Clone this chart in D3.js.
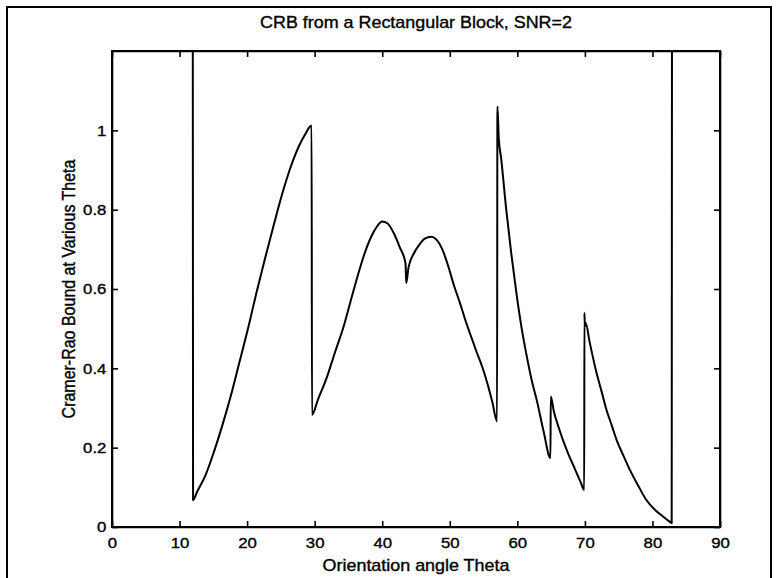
<!DOCTYPE html>
<html>
<head>
<meta charset="utf-8">
<script src="https://cdn.jsdelivr.net/npm/d3@7"></script>
<style>
  body { margin: 0; background: #fff; }
  svg { display: block; }
  text { font-family: "Liberation Sans", Arial, Helvetica, sans-serif; fill: #000; stroke: #000; stroke-width: 0.35px; }
  .axis path, .axis line { stroke: #000; stroke-width: 1.6; }
</style>
</head>
<body>
<svg width="776" height="578"></svg>
<script>
// CRB vs orientation angle
var theta = [11.95, 12.0, 12.6, 13.85, 15.1, 16.4, 17.64, 18.9, 20.17, 21.4, 22.7, 24.0, 25.2,
  26.5, 27.75, 28.6, 29.41, 29.55, 29.6, 30.5, 31.8, 33.0, 34.3, 35.3, 36.3, 37.3, 38.35,
  39.2, 40.0, 40.8, 41.7, 42.6, 43.45, 43.55, 43.9, 44.7, 45.5, 46.3, 47.25, 48.0, 48.9,
  49.8, 50.6, 51.5, 52.3, 53.2, 54.0, 54.8, 55.6, 56.3, 57.0, 57.05, 57.25, 57.6, 58.36,
  59.1, 59.87, 60.6, 61.4, 62.1, 62.9, 63.9, 64.9, 64.95, 65.4, 66.1, 66.8, 67.6, 68.3,
  68.8, 69.4, 69.9, 69.93, 70.0, 70.1, 70.74, 71.73, 72.5, 73.2, 74.0, 74.7, 75.7, 76.66,
  77.9, 79.1, 80.4, 81.6, 82.6, 82.85, 82.9];
var crb = [1.5, 0.068, 0.089, 0.131, 0.19, 0.26, 0.334, 0.418, 0.503, 0.592, 0.68, 0.765, 0.84,
  0.91, 0.963, 0.99, 1.011, 1.012, 0.283, 0.322, 0.377, 0.44, 0.506, 0.568, 0.629, 0.685, 0.731,
  0.757, 0.77, 0.765, 0.741, 0.705, 0.665, 0.615, 0.655, 0.69, 0.712, 0.727, 0.732, 0.725, 0.7,
  0.656, 0.61, 0.565, 0.522, 0.478, 0.44, 0.404, 0.36, 0.315, 0.266, 1.06, 0.98, 0.93, 0.8,
  0.69, 0.589, 0.505, 0.43, 0.372, 0.318, 0.24, 0.174, 0.329, 0.292, 0.252, 0.217, 0.182, 0.155,
  0.135, 0.112, 0.093, 0.54, 0.505, 0.515, 0.463, 0.388, 0.34, 0.295, 0.255, 0.219, 0.18, 0.144,
  0.104, 0.068, 0.043, 0.026, 0.013, 0.01, 1.5];

var xTicks = [0, 10, 20, 30, 40, 50, 60, 70, 80, 90];
var yTicks = [0, 0.2, 0.4, 0.6, 0.8, 1];

var titleText = 'CRB from a Rectangular Block, SNR=2';
var xLabel = 'Orientation angle Theta';
var yLabel = 'Cramer-Rao Bound at Various Theta';

var svg = d3.select('svg');
var margin = {left: 112, right: 56, top: 51, bottom: 51};
var width = 776 - margin.left - margin.right;
var height = 578 - margin.top - margin.bottom;
var stretch = 'scale(1.12,1)';   // the scan is a little wider than tall

// figure frame (edge of the scanned page)
svg.append('path')
  .attr('d', 'M7,578V7H771V578')
  .attr('fill', 'none')
  .attr('stroke', '#000')
  .attr('stroke-width', 2);

var x = d3.scaleLinear().domain([0, 90]).range([0, width]);
var y = d3.scaleLinear().domain([0, 1.2]).range([height, 0]);

var g = svg.append('g')
  .attr('transform', 'translate(' + margin.left + ',' + margin.top + ')');

g.append('clipPath').attr('id', 'plot-clip')
  .append('rect').attr('width', width).attr('height', height);

// axes, ticks pointing inwards on all four sides
var xAxis = g.append('g').attr('class', 'axis')
  .attr('transform', 'translate(0,' + height + ')')
  .call(d3.axisBottom(x).tickValues(xTicks).tickSizeInner(-6).tickSizeOuter(0).tickPadding(10));
xAxis.selectAll('text').attr('transform', stretch).style('font-size', '15px');

g.append('g').attr('class', 'axis')
  .call(d3.axisTop(x).tickValues(xTicks).tickSizeInner(-6).tickSizeOuter(0).tickFormat(''));

var yAxis = g.append('g').attr('class', 'axis')
  .call(d3.axisLeft(y).tickValues(yTicks).tickSizeInner(-6).tickSizeOuter(0).tickPadding(5)
    .tickFormat(d3.format('')));
yAxis.selectAll('text').attr('transform', stretch).style('font-size', '15px');

g.append('g').attr('class', 'axis')
  .attr('transform', 'translate(' + width + ',0)')
  .call(d3.axisRight(y).tickValues(yTicks).tickSizeInner(-6).tickSizeOuter(0).tickFormat(''));

g.append('rect')
  .attr('width', width).attr('height', height)
  .attr('fill', 'none').attr('stroke', '#000').attr('stroke-width', 2);

// the curve
var points = theta.map(function(t, i) { return [t, crb[i]]; });
var line = d3.line()
  .curve(d3.curveMonotoneX)
  .x(function(d) { return x(d[0]); })
  .y(function(d) { return y(d[1]); });

g.append('path')
  .datum(points)
  .attr('clip-path', 'url(#plot-clip)')
  .attr('d', line)
  .attr('fill', 'none')
  .attr('stroke', '#000')
  .attr('stroke-width', 2)
  .attr('stroke-linejoin', 'round');

// labels
svg.append('text')
  .attr('transform', 'translate(' + (margin.left + width / 2) + ',28) ' + stretch)
  .attr('text-anchor', 'middle')
  .style('font-size', '16px')
  .text(titleText);

svg.append('text')
  .attr('transform', 'translate(' + (margin.left + width / 2) + ',571) ' + stretch)
  .attr('text-anchor', 'middle')
  .style('font-size', '16px')
  .text(xLabel);

svg.append('text')
  .attr('transform', 'translate(75,' + (margin.top + height / 2) + ') ' + stretch + ' rotate(-90)')
  .attr('text-anchor', 'middle')
  .style('font-size', '16px')
  .text(yLabel);
</script>
</body>
</html>
